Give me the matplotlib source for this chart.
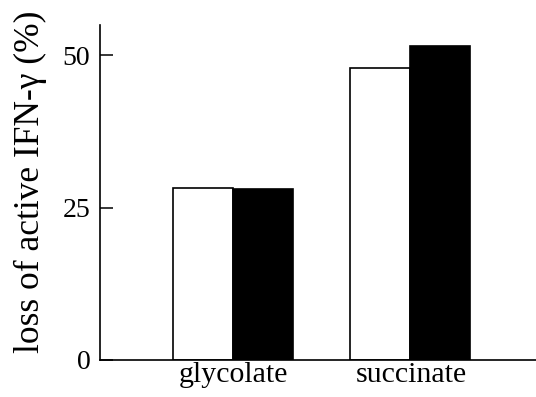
import numpy as np
import matplotlib
matplotlib.use("Agg")
import matplotlib.pyplot as plt

# data
categories = ["glycolate", "succinate"]
white_vals = [28.3, 47.9]
black_vals = [28.0, 51.6]
yticks = [0, 25, 50]

plt.rcParams['font.family'] = ['Liberation Serif', 'DejaVu Serif']

fig = plt.figure(figsize=(5.36, 3.97), dpi=100)
ax = fig.add_axes([0.1866, 0.0932, 0.8134, 0.8438])

x = np.arange(len(categories))
w = 0.339
ax.bar(x - w / 2, white_vals, w, color="white", edgecolor="black", linewidth=1.2)
ax.bar(x + w / 2, black_vals, w, color="black", edgecolor="black", linewidth=1.2)

ax.set_xlim(-0.751, 1.712)
ax.set_ylim(0, 55)
ax.set_yticks(yticks)
ax.set_yticklabels([str(t) for t in yticks], fontsize=20)
ax.set_xticks(x + 0.005)
ax.set_xticklabels(categories, fontsize=21.5)
ax.tick_params(axis="x", length=0, pad=1.5)
ax.tick_params(axis="y", direction="in", length=9, width=1.1, pad=7)

for s in ["top", "right"]:
    ax.spines[s].set_visible(False)
for s in ["left", "bottom"]:
    ax.spines[s].set_linewidth(1.2)

ax.set_ylabel("loss of active IFN-γ (%)", fontsize=25.5)
ax.yaxis.set_label_coords(-0.121, 0.531)

fig.savefig("out.png", dpi=100)
